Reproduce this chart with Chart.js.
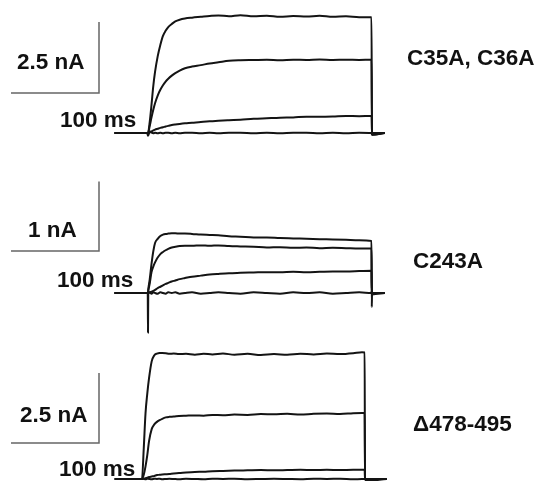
<!DOCTYPE html>
<html lang="en">

<head>
    <meta charset="UTF-8">
    <title>Currents</title>
    <script src="https://cdn.jsdelivr.net/npm/chart.js@4.4.0/dist/chart.umd.min.js"></script>
    <style>
        body {
            margin: 0;
            background: #fff;
        }

        #wrap {
            position: relative;
            width: 536px;
            height: 481px;
            overflow: hidden;
        }

        canvas {
            position: absolute;
            left: 0;
        }

        .lbl {
            position: absolute;
            font: bold 22.5px "Liberation Sans", Arial, sans-serif;
            line-height: 22px;
            color: #111;
            white-space: nowrap;
        }
    </style>
</head>

<body>
    <div id="wrap"></div>
    <script>
        // labels
        const panelNames = ['C35A, C36A', 'C243A', '\u0394478-495'];
        const ampLabels = ['2.5 nA', '1 nA', '2.5 nA'];
        const ampBars = [2.5, 1, 2.5];   // nA
        const timeBar = 100;             // ms
        const timeLabel = '100 ms';

        // panel 1 (ms / nA)
        const time1 = [-38, -1, 0, 2, 4, 6, 8, 11, 14, 17, 20, 23, 27, 31, 36, 42, 50, 60, 70, 80, 92, 105, 120, 135, 150, 165, 180, 195, 210, 225, 240, 254, 254.5, 269];
        const p1a = [0, 0, 0, 0.4, 1.0, 1.65, 2.15, 2.7, 3.1, 3.42, 3.6, 3.73, 3.84, 3.93, 3.99, 4.03, 4.06, 4.09, 4.12, 4.14, 4.11, 4.15, 4.11, 4.13, 4.09, 4.12, 4.1, 4.13, 4.09, 4.11, 4.08, 4.08, -0.06, 0];
        const p1b = [0, 0, 0, 0.25, 0.55, 0.82, 1.05, 1.32, 1.52, 1.68, 1.81, 1.91, 2.02, 2.11, 2.2, 2.28, 2.34, 2.39, 2.45, 2.49, 2.54, 2.56, 2.57, 2.58, 2.56, 2.58, 2.57, 2.59, 2.57, 2.58, 2.57, 2.58, 0, 0];
        const p1c = [0, 0, 0, 0.03, 0.06, 0.09, 0.12, 0.15, 0.18, 0.2, 0.23, 0.25, 0.28, 0.3, 0.32, 0.34, 0.36, 0.39, 0.41, 0.43, 0.45, 0.47, 0.5, 0.52, 0.54, 0.55, 0.57, 0.57, 0.58, 0.6, 0.59, 0.6, 0, 0];
        const p1d = [0, 0, -0.1, 0.05, 0.01, -0.01, 0.01, -0.01, 0.01, -0.01, 0.01, 0.01, -0.01, 0.01, -0.01, 0.01, 0.01, -0.01, 0.01, -0.01, 0.01, 0.01, -0.01, 0.01, -0.01, 0.01, 0.01, -0.01, 0.01, -0.01, 0.01, 0, -0.06, 0];

        // panel 2
        const time2 = [-38, -1, -0.3, 0, 0.3, 2, 4, 6, 8, 11, 14, 17, 20, 23, 27, 31, 36, 42, 50, 60, 70, 80, 92, 105, 120, 135, 150, 165, 180, 195, 210, 225, 240, 254, 254.3, 254.6, 269];
        const p2a = [0, 0, 0, 0, 0.05, 0.2, 0.42, 0.6, 0.72, 0.78, 0.82, 0.84, 0.85, 0.855, 0.86, 0.86, 0.855, 0.855, 0.85, 0.84, 0.835, 0.83, 0.815, 0.81, 0.8, 0.8, 0.79, 0.785, 0.78, 0.775, 0.77, 0.765, 0.76, 0.75, -0.2, 0, 0];
        const p2b = [0, 0, 0, 0, 0.03, 0.14, 0.3, 0.38, 0.44, 0.51, 0.56, 0.59, 0.615, 0.635, 0.655, 0.665, 0.675, 0.68, 0.68, 0.685, 0.68, 0.685, 0.675, 0.67, 0.665, 0.655, 0.66, 0.65, 0.655, 0.645, 0.65, 0.645, 0.64, 0.64, 0, 0, 0];
        const p2c = [0, 0, 0, 0, 0, 0.01, 0.02, 0.03, 0.045, 0.07, 0.09, 0.11, 0.13, 0.145, 0.165, 0.18, 0.2, 0.215, 0.235, 0.25, 0.265, 0.275, 0.285, 0.29, 0.295, 0.3, 0.3, 0.305, 0.3, 0.305, 0.31, 0.31, 0.315, 0.32, 0, 0, 0];
        const p2d = [0, 0, 0, -0.57, 0, 0.01, -0.01, 0.01, 0, -0.01, 0.01, 0, -0.01, 0.01, 0, 0.01, -0.01, 0, 0.01, -0.01, 0, 0.01, 0, -0.01, 0.01, 0, -0.01, 0.01, 0, 0.01, -0.01, 0, 0.01, 0, 0.03, -0.02, 0];

        // panel 3
        const time3 = [-31, -1, 0, 2, 4, 6, 8, 11, 14, 17, 20, 23, 27, 31, 36, 42, 50, 60, 70, 80, 92, 105, 120, 135, 150, 165, 180, 195, 210, 225, 240, 250, 253, 253.4, 278];
        const p3a = [0, 0, 0, 1.1, 2.35, 3.05, 3.6, 4.2, 4.42, 4.48, 4.5, 4.5, 4.49, 4.47, 4.48, 4.46, 4.47, 4.44, 4.47, 4.45, 4.48, 4.44, 4.47, 4.43, 4.46, 4.44, 4.47, 4.45, 4.48, 4.46, 4.49, 4.53, 4.52, -0.07, 0];
        const p3b = [0, 0, 0, 0.15, 0.45, 0.85, 1.35, 1.78, 1.95, 2.04, 2.1, 2.15, 2.2, 2.22, 2.23, 2.25, 2.26, 2.27, 2.26, 2.29, 2.28, 2.3, 2.29, 2.32, 2.31, 2.33, 2.3, 2.33, 2.34, 2.32, 2.35, 2.36, 2.36, 0, 0];
        const p3c = [0, 0, 0, 0.01, 0.03, 0.05, 0.07, 0.09, 0.11, 0.14, 0.15, 0.16, 0.17, 0.18, 0.2, 0.21, 0.23, 0.25, 0.26, 0.28, 0.29, 0.3, 0.31, 0.32, 0.31, 0.32, 0.33, 0.32, 0.33, 0.32, 0.33, 0.33, 0.33, 0, 0];
        const p3d = [0, 0, 0, 0.01, -0.01, 0.01, 0, -0.01, 0.01, 0, 0.01, -0.01, 0, 0.01, 0, -0.01, 0.01, 0, -0.01, 0.01, 0, 0.01, -0.01, 0, 0.01, 0, -0.01, 0.01, 0, 0.01, -0.01, 0, 0, 0, 0];

        // layout (pixels)
        const W = 536;
        const pxPerMs = 0.88;
        const barX = 99;
        const panels = [
            { time: time1, traces: [p1a, p1b, p1c, p1d], top: 0, height: 160, base: 133, pxPerNA: 28.4, onsetX: 148, barY: 93,
              ampPos: [17, 62], timePos: [60, 120], namePos: [407, 58] },
            { time: time2, traces: [p2a, p2b, p2c, p2d], top: 160, height: 180, base: 133, pxPerNA: 69.5, onsetX: 148, barY: 91,
              ampPos: [28, 230], timePos: [57, 280], namePos: [413, 261] },
            { time: time3, traces: [p3a, p3b, p3c, p3d], top: 320, height: 161, base: 159, pxPerNA: 28, onsetX: 142, barY: 123,
              ampPos: [20, 415], timePos: [59, 469], namePos: [413, 424] }
        ];

        const wrap = document.getElementById('wrap');

        function addLabel(text, pos) {
            let d = document.createElement('div');
            d.className = 'lbl';
            d.textContent = text;
            d.style.left = pos[0] + 'px';
            d.style.top = (pos[1] - 11) + 'px';
            wrap.appendChild(d);
        }

        panels.forEach((p, i) => {
            let cv = document.createElement('canvas');
            cv.width = W;
            cv.height = p.height;
            cv.style.top = p.top + 'px';
            wrap.appendChild(cv);

            let xMin = -p.onsetX / pxPerMs;
            let xMax = (W - p.onsetX) / pxPerMs;
            let yMax = p.base / p.pxPerNA;
            let yMin = -(p.height - p.base) / p.pxPerNA;

            // scale bar corner in data units
            let cx = (barX - p.onsetX) / pxPerMs;
            let cy = (p.base - p.barY) / p.pxPerNA;

            let datasets = p.traces.map(tr => ({
                data: p.time.map((t, k) => ({ x: t, y: tr[k] })),
                borderColor: '#141414',
                borderWidth: 2,
                pointRadius: 0,
                cubicInterpolationMode: 'monotone',
                clip: false
            }));
            datasets.push({
                data: [{ x: cx - timeBar, y: cy }, { x: cx, y: cy }, { x: cx, y: cy + ampBars[i] }],
                borderColor: '#666',
                borderWidth: 1.5,
                pointRadius: 0,
                tension: 0,
                clip: false
            });

            new Chart(cv.getContext('2d'), {
                type: 'line',
                data: { datasets: datasets },
                options: {
                    responsive: false,
                    animation: false,
                    events: [],
                    layout: { padding: 0 },
                    plugins: { legend: { display: false }, tooltip: { enabled: false } },
                    scales: {
                        x: { type: 'linear', min: xMin, max: xMax, display: false },
                        y: { type: 'linear', min: yMin, max: yMax, display: false }
                    }
                }
            });

            addLabel(ampLabels[i], p.ampPos);
            addLabel(timeLabel, p.timePos);
            addLabel(panelNames[i], p.namePos);
        });
    </script>
</body>

</html>
